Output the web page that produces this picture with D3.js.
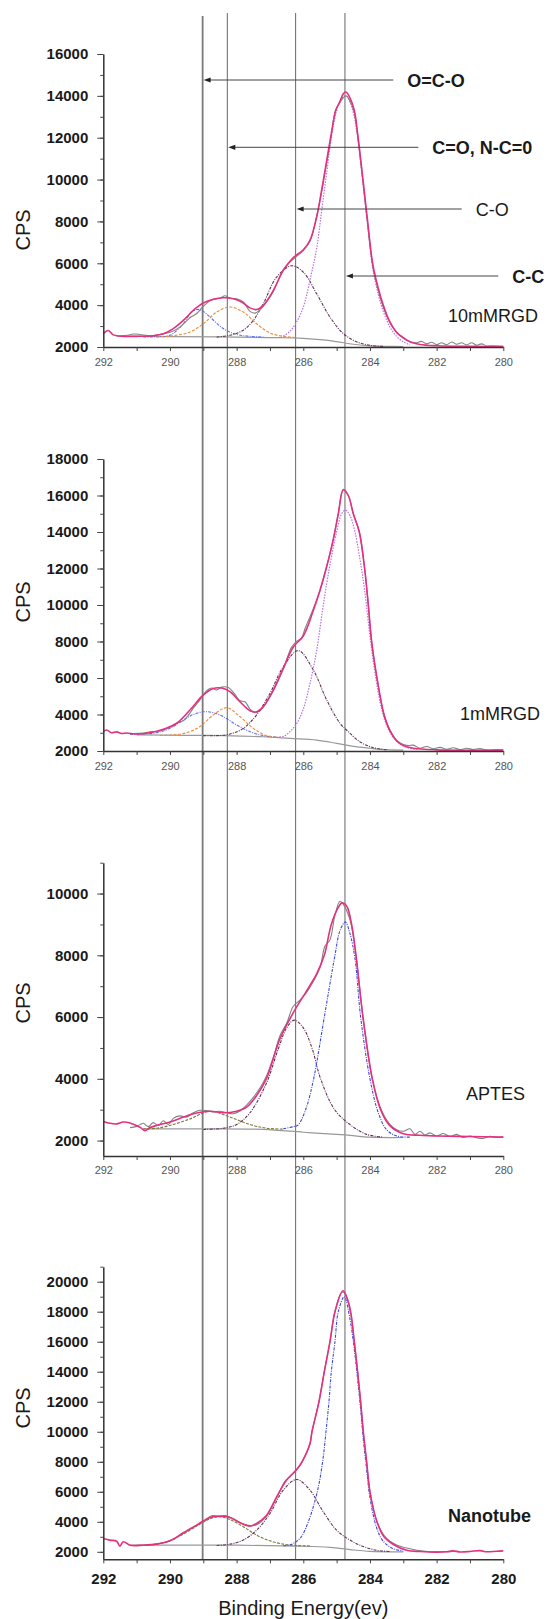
<!DOCTYPE html>
<html>
<head>
<meta charset="utf-8">
<script src="https://cdn.jsdelivr.net/npm/d3@7"></script>
<style>
  body { margin: 0; background: #fff; }
  svg { display: block; }
  text { font-family: "Liberation Sans", Arial, sans-serif; }
</style>
</head>
<body>
<svg id="chart" width="547" height="1619"></svg>
<script>
// ---- data (binding energy eV, counts per second) ----
const xTicks = [292, 290, 288, 286, 284, 282, 280];
const refLines = [289.02, 288.28, 286.23, 284.75];
const bondLabels = ["O=C-O", "C=O, N-C=0", "C-O", "C-C"];
const sampleNames = ["10mMRGD", "1mMRGD", "APTES", "Nanotube"];

const yTicks10m = [2000, 4000, 6000, 8000, 10000, 12000, 14000, 16000];
const yTicks1m = [2000, 4000, 6000, 8000, 10000, 12000, 14000, 16000, 18000];
const yTicksAptes = [2000, 4000, 6000, 8000, 10000];
const yTicksTube = [2000, 4000, 6000, 8000, 10000, 12000, 14000, 16000, 18000, 20000];

// 10mMRGD
const env10m = [[292.0,2640],[291.85,2790],[291.7,2580],[291.45,2510],[291.0,2510],[290.5,2540],[290.2,2630],[289.9,2880],[289.6,3270],[289.3,3750],[289.0,4100],[288.7,4280],[288.4,4350],[288.1,4310],[287.85,4150],[287.6,3870],[287.4,3790],[287.2,3990],[286.9,4700],[286.6,5660],[286.3,6270],[286.0,6650],[285.8,7100],[285.6,8200],[285.45,9500],[285.32,10700],[285.16,12200],[285.02,13350],[284.92,13650],[284.8,14100],[284.72,14180],[284.6,13900],[284.47,13300],[284.37,12200],[284.21,10000],[284.07,8000],[283.92,6000],[283.75,4800],[283.6,4000],[283.4,3200],[283.2,2700],[283.0,2450],[282.8,2250],[282.5,2120],[282.0,2060],[281.0,2030],[280.0,2010]];
const raw10m = [[291.6,2520],[291.3,2560],[291.1,2620],[290.9,2600],[290.6,2540],[290.3,2600],[290.0,2700],[289.7,2950],[289.4,3400],[289.2,3600],[289.0,3950],[288.75,4250],[288.5,4330],[288.35,4450],[288.2,4330],[288.0,4300],[287.8,4150],[287.6,3700],[287.45,3620],[287.3,3780],[287.1,4150],[286.9,4650],[286.6,5700],[286.3,6200],[286.0,6600],[285.8,7050],[285.6,8250],[285.45,9400],[285.32,10600],[285.16,12100],[285.05,13200],[284.9,13700],[284.72,14000],[284.58,13700],[284.47,13200],[284.37,12100],[284.21,9900],[284.07,7900],[283.92,5900],[283.75,4700],[283.6,3900],[283.4,3150],[283.2,2700],[283.0,2420],[282.8,2250],[282.6,2200],[282.45,2270],[282.3,2150],[282.15,2230],[282.0,2120],[281.85,2200],[281.7,2110],[281.55,2240],[281.4,2130],[281.25,2200],[281.1,2100],[280.95,2200],[280.8,2080],[280.65,2150],[280.5,2050],[280.3,2060],[280.0,2040]];
const bg10m = [[291.5,2520],[290.0,2500],[288.5,2480],[287.0,2450],[286.0,2415],[285.4,2340],[285.0,2255],[284.5,2130],[284.0,2050],[283.5,2030],[283.0,2020]];
const oco10m = [[290.8,2480],[290.4,2490],[290.0,2560],[289.6,3110],[289.4,3590],[289.3,3720],[289.15,3800],[289.0,3700],[288.8,3430],[288.4,2880],[288.0,2600],[287.6,2510],[287.2,2470]];
const nco10m = [[290.4,2480],[289.9,2540],[289.4,2720],[289.0,3110],[288.6,3670],[288.2,3910],[287.8,3670],[287.4,3110],[287.0,2670],[286.6,2510],[286.2,2450]];
const co10m = [[288.6,2480],[288.2,2560],[287.8,2800],[287.5,3270],[287.2,4070],[286.8,5340],[286.35,5880],[286.0,5580],[285.6,4550],[285.2,3430],[284.8,2640],[284.4,2250],[284.0,2080],[283.6,2030]];
const cc10m = [[286.6,2520],[286.4,2750],[286.2,3200],[286.0,3900],[285.8,5200],[285.6,6700],[285.45,8500],[285.3,10300],[285.15,12100],[285.0,13300],[284.85,13900],[284.72,14000],[284.6,13700],[284.47,13000],[284.37,12000],[284.21,9800],[284.07,7800],[283.92,5800],[283.75,4500],[283.6,3700],[283.4,2950],[283.2,2500],[283.0,2250],[282.8,2100]];

// 1mMRGD
const env1m = [[292.0,3060],[291.9,3150],[291.75,3000],[291.6,3050],[291.45,2960],[291.3,2990],[291.0,2930],[290.6,3000],[290.2,3190],[289.8,3520],[289.4,4250],[289.0,5070],[288.7,5430],[288.45,5450],[288.2,5250],[287.9,4700],[287.6,4210],[287.4,4150],[287.2,4430],[286.9,5340],[286.6,6530],[286.3,7700],[286.0,8300],[285.7,9700],[285.5,10800],[285.3,12100],[285.1,13600],[284.95,15000],[284.8,16330],[284.65,16000],[284.5,15000],[284.32,14000],[284.16,12000],[284.05,10000],[283.95,8000],[283.79,6000],[283.58,4000],[283.4,3100],[283.2,2550],[283.0,2300],[282.7,2150],[282.0,2060],[281.0,2040],[280.0,2040]];
const raw1m = [[291.1,2950],[290.8,2990],[290.55,3060],[290.3,3100],[290.0,3300],[289.8,3500],[289.6,3650],[289.45,3950],[289.3,4350],[289.1,4800],[288.9,5300],[288.75,5450],[288.6,5350],[288.45,5500],[288.25,5480],[288.05,5100],[287.9,4750],[287.75,4700],[287.6,4300],[287.45,4100],[287.3,4200],[287.1,4700],[286.9,5300],[286.6,6500],[286.35,7700],[286.2,8000],[286.05,8200],[285.95,8700],[285.7,9800],[285.5,10800],[285.3,12100],[285.1,13600],[284.95,15000],[284.8,16300],[284.65,16000],[284.5,15000],[284.32,14000],[284.16,12000],[284.05,10000],[283.95,8000],[283.79,6000],[283.58,4000],[283.4,3150],[283.2,2600],[283.0,2350],[282.85,2300],[282.7,2320],[282.5,2150],[282.3,2250],[282.1,2120],[281.9,2200],[281.7,2100],[281.5,2180],[281.3,2080],[281.1,2150],[280.9,2080],[280.7,2130],[280.5,2060],[280.2,2080],[280.0,2070]];
const bg1m = [[291.0,2880],[289.5,2860],[288.4,2840],[287.2,2780],[286.4,2690],[285.6,2600],[285.0,2420],[284.5,2250],[284.0,2150],[283.5,2070],[283.0,2050]];
const oco1m = [[291.2,2900],[290.9,2930],[290.4,3000],[290.0,3240],[289.6,3700],[289.3,4000],[289.0,4150],[288.7,4100],[288.4,3880],[288.0,3430],[287.6,3060],[287.2,2840],[286.8,2760]];
const nco1m = [[290.3,2860],[289.9,2880],[289.5,3000],[289.1,3340],[288.7,3980],[288.3,4370],[287.9,3880],[287.5,3240],[287.1,2840],[286.7,2750]];
const co1m = [[289.0,2840],[288.6,2840],[288.2,2930],[287.8,3240],[287.4,3980],[287.0,5160],[286.6,6620],[286.15,7500],[285.7,6440],[285.3,4800],[284.9,3520],[284.65,3060],[284.3,2500],[283.9,2180],[283.5,2070]];
const cc1m = [[286.8,2750],[286.6,2800],[286.4,3060],[286.2,3500],[286.0,4300],[285.8,5700],[285.6,7500],[285.4,10000],[285.2,12200],[285.0,14000],[284.85,15000],[284.74,15200],[284.6,14900],[284.45,14000],[284.3,12500],[284.16,10800],[284.0,8300],[283.85,6300],[283.65,4300],[283.45,3200],[283.2,2550],[282.9,2200],[282.6,2080]];

// APTES
const envAptes = [[292.0,2620],[291.8,2560],[291.6,2540],[291.4,2600],[291.2,2570],[290.9,2430],[290.75,2320],[290.6,2420],[290.4,2490],[290.0,2600],[289.6,2760],[289.2,2890],[288.8,2950],[288.4,2900],[288.0,2950],[287.7,3080],[287.4,3460],[287.11,4000],[286.9,4650],[286.7,5300],[286.27,6200],[285.9,6850],[285.6,7400],[285.37,8000],[285.16,9000],[284.95,9550],[284.84,9700],[284.7,9600],[284.55,9000],[284.42,8000],[284.21,6000],[283.93,4000],[283.68,3000],[283.42,2500],[283.0,2220],[282.5,2170],[282.0,2150],[281.0,2130],[280.0,2110]];
const rawAptes = [[291.2,2420],[291.0,2460],[290.8,2560],[290.65,2450],[290.5,2580],[290.35,2480],[290.2,2640],[290.05,2520],[289.9,2720],[289.7,2800],[289.5,2760],[289.3,2900],[289.1,2980],[288.9,2970],[288.7,2930],[288.5,2950],[288.3,2900],[288.1,2870],[287.9,2960],[287.7,3150],[287.5,3400],[287.3,3700],[287.1,4100],[286.9,4700],[286.7,5400],[286.5,5800],[286.3,6350],[286.1,6550],[285.9,6800],[285.7,7150],[285.5,7600],[285.35,8300],[285.2,8500],[285.05,9300],[284.9,9750],[284.8,9650],[284.6,9150],[284.42,8000],[284.21,6000],[283.93,4000],[283.68,3050],[283.42,2550],[283.2,2350],[283.0,2300],[282.8,2380],[282.65,2200],[282.5,2300],[282.35,2180],[282.2,2250],[282.0,2150],[281.8,2230],[281.6,2130],[281.4,2200],[281.2,2100],[281.0,2150],[280.8,2090],[280.6,2070],[280.4,2140],[280.2,2100],[280.0,2120]];
const bgAptes = [[290.8,2380],[289.0,2380],[287.2,2360],[286.0,2270],[285.0,2200],[284.6,2170],[284.0,2110],[283.0,2100]];
const ocAptes = [[290.8,2380],[290.4,2400],[290.0,2490],[289.4,2700],[288.8,2950],[288.2,2760],[287.6,2520],[287.1,2400],[286.6,2370]];
const coAptes = [[289.0,2360],[288.4,2400],[288.0,2520],[287.6,2900],[287.11,3850],[286.74,5000],[286.5,5650],[286.27,5900],[286.0,5650],[285.74,5000],[285.48,4000],[285.06,3000],[284.58,2500],[284.1,2200],[283.6,2110]];
const ccAptes = [[286.6,2380],[286.3,2450],[286.16,2500],[285.93,3000],[285.69,4000],[285.37,6000],[285.05,8000],[284.9,8800],[284.74,9080],[284.6,8700],[284.45,7900],[284.28,6000],[284.0,4000],[283.75,2900],[283.5,2350],[283.2,2150],[282.8,2110]];

// Nanotube
const envTube = [[292.0,2890],[291.8,2780],[291.6,2700],[291.5,2380],[291.4,2670],[291.2,2440],[290.8,2440],[290.4,2510],[290.0,2730],[289.6,3270],[289.2,3780],[288.8,4290],[288.5,4380],[288.2,4290],[287.9,3930],[287.6,3710],[287.4,3890],[287.1,4440],[286.8,5660],[286.5,6780],[286.2,7480],[286.04,8000],[285.8,9200],[285.74,10000],[285.53,12000],[285.37,14000],[285.2,16000],[285.05,18000],[284.81,19400],[284.7,19000],[284.58,18000],[284.47,16000],[284.37,14000],[284.28,12000],[284.2,10000],[284.1,8000],[284.0,6000],[283.79,4000],[283.58,3000],[283.31,2500],[282.9,2100],[282.5,2020],[282.0,1980],[281.7,2000],[281.5,2060],[281.3,1990],[281.0,2020],[280.7,2080],[280.5,2000],[280.2,2040],[280.0,2060]];
const rawTube = [[291.0,2440],[290.6,2470],[290.2,2600],[289.8,2950],[289.4,3500],[289.0,4000],[288.75,4400],[288.55,4350],[288.35,4420],[288.1,4200],[287.85,3900],[287.6,3750],[287.4,3800],[287.1,4400],[286.8,5600],[286.55,6700],[286.4,7000],[286.2,7450],[286.04,7950],[285.8,9200],[285.74,10000],[285.53,12000],[285.37,14000],[285.2,16000],[285.05,18000],[284.85,19300],[284.75,19200],[284.58,17900],[284.47,16000],[284.37,14000],[284.28,12000],[284.2,10000],[284.1,8000],[284.0,6000],[283.79,4000],[283.58,3100],[283.4,2700],[283.2,2450],[283.0,2300],[282.8,2200],[282.6,2100],[282.4,2050],[282.2,2000],[281.8,2010],[281.5,2030]];
const bgTube = [[291.2,2440],[288.0,2440],[286.2,2380],[285.2,2300],[284.6,2150],[284.0,2030],[283.0,2000]];
const ocTube = [[290.8,2420],[290.4,2510],[290.0,2730],[289.6,3180],[289.2,3710],[288.8,4200],[288.5,4330],[288.2,4150],[287.8,3670],[287.4,3110],[287.0,2730],[286.6,2510],[286.2,2420],[285.8,2390]];
const coTube = [[288.6,2420],[288.2,2510],[287.8,2780],[287.4,3440],[287.0,4550],[286.6,6110],[286.2,6820],[285.8,6110],[285.4,4660],[285.0,3440],[284.6,2780],[284.2,2350],[283.8,2100],[283.4,2020]];
const ccTube = [[286.6,2400],[286.4,2460],[286.2,2700],[286.06,3000],[285.85,4000],[285.58,6000],[285.42,8000],[285.32,10000],[285.23,12000],[285.16,14000],[285.05,16000],[284.95,18000],[284.77,19000],[284.6,17500],[284.47,15500],[284.37,13500],[284.28,11500],[284.2,9500],[284.1,7500],[284.0,5600],[283.8,3600],[283.6,2700],[283.3,2200],[283.0,2050]];

// ---- styles and layout ----
const styles = {
    env:    { stroke: "#e4307f", width: 1.6, dash: null },
    raw:    { stroke: "#828282", width: 1.1, dash: null },
    bg:     { stroke: "#999", width: 1.2, dash: null },
    blue:   { stroke: "#5b6cf0", width: 1.1, dash: "3,1.2,1,1.2" },
    orange: { stroke: "#ec8a3c", width: 1.1, dash: "3,1.5" },
    plum:   { stroke: "#5e3054", width: 1.1, dash: "3,1.2,1,1.2" },
    violet: { stroke: "#b86ee8", width: 1.2, dash: "1.5,1.3" },
    navy:   { stroke: "#3a46e0", width: 1.1, dash: "3,1.2,1,1.2" },
    olive:  { stroke: "#7d7a3a", width: 1.1, dash: "3,1.3" }
};

const panels = [
    { name: sampleNames[0], bold: false, domain: [2000, 16000], yTicks: yTicks10m, env: env10m, raw: raw10m, bg: bg10m,
      peaks: [[oco10m, "blue"], [nco10m, "orange"], [co10m, "plum"], [cc10m, "violet"]],
      top: 54, bottom: 347, tickY: 18.7, bigTicks: false, cpsY: 230, labelX: 448, labelY: 321.5 },
    { name: sampleNames[1], bold: false, domain: [2000, 18000], yTicks: yTicks1m, env: env1m, raw: raw1m, bg: bg1m,
      peaks: [[oco1m, "blue"], [nco1m, "orange"], [co1m, "plum"], [cc1m, "violet"]],
      top: 459, bottom: 751, tickY: 19, bigTicks: false, cpsY: 602, labelX: 460, labelY: 720 },
    { name: sampleNames[2], bold: false, domain: [1500, 11000], yTicks: yTicksAptes, env: envAptes, raw: rawAptes, bg: bgAptes,
      peaks: [[ocAptes, "olive"], [coAptes, "plum"], [ccAptes, "navy"]],
      top: 862.7, bottom: 1156, tickY: 18, bigTicks: false, cpsY: 1003, labelX: 466, labelY: 1100 },
    { name: sampleNames[3], bold: true, domain: [1500, 21000], yTicks: yTicksTube, env: envTube, raw: rawTube, bg: bgTube,
      peaks: [[ocTube, "olive"], [coTube, "plum"], [ccTube, "navy"]],
      top: 1266.7, bottom: 1559.3, tickY: 24.7, bigTicks: true, cpsY: 1408, labelX: 448, labelY: 1521.5 }
];

const svg = d3.select("#chart");
const x = d3.scaleLinear().domain([292, 280]).range([103.3, 503.3]);

// reference lines through all panels
svg.append("g").attr("class", "ref-lines")
    .selectAll("line")
    .data(refLines)
    .enter().append("line")
    .attr("x1", d => x(d)).attr("x2", d => x(d))
    .attr("y1", (d, i) => i === 0 ? 16 : 13)
    .attr("y2", 1559)
    .attr("stroke", (d, i) => i === 0 ? "#7a7a7a" : "#666")
    .attr("stroke-width", (d, i) => i === 0 ? 1.8 : 1);

panels.forEach(function (p) {
    const y = d3.scaleLinear().domain(p.domain).range([p.bottom, p.top]);
    const g = svg.append("g").attr("class", "panel");
    const line = d3.line()
        .x(d => x(d[0]))
        .y(d => y(d[1]))
        .curve(d3.curveCatmullRom.alpha(0.5));

    function drawCurve(data, st) {
        g.append("path")
            .attr("d", line(data))
            .attr("fill", "none")
            .attr("stroke", st.stroke)
            .attr("stroke-width", st.width)
            .attr("stroke-dasharray", st.dash)
            .attr("stroke-linejoin", "round");
    }

    drawCurve(p.bg, styles.bg);
    p.peaks.forEach(pk => drawCurve(pk[0], styles[pk[1]]));
    drawCurve(p.raw, styles.raw);
    drawCurve(p.env, styles.env);

    // y axis: minor ticks every 1000, labelled majors
    const minorVals = d3.range(2000, p.domain[1] + 1, 1000);
    const yMinor = g.append("g")
        .attr("transform", `translate(${x(292)},0)`)
        .call(d3.axisLeft(y).tickValues(minorVals).tickSize(3).tickSizeOuter(0).tickFormat(""));
    yMinor.select(".domain").attr("stroke", "#333").attr("stroke-width", 1.5);
    yMinor.selectAll(".tick line").attr("stroke", "#444");

    const yMajor = g.append("g")
        .attr("transform", `translate(${x(292)},0)`)
        .call(d3.axisLeft(y).tickValues(p.yTicks).tickSize(6).tickPadding(9).tickFormat(d3.format("d")));
    yMajor.select(".domain").remove();
    yMajor.selectAll(".tick line").attr("stroke", "#444");
    yMajor.selectAll("text")
        .attr("fill", "#1a1a1a")
        .style("font-size", "15px")
        .style("font-weight", "bold");

    // x axis at the bottom of the panel
    const xAxis = g.append("g")
        .attr("transform", `translate(0,${p.bottom})`)
        .call(d3.axisBottom(x).tickValues(d3.range(280, 293, 1)).tickSize(4).tickSizeOuter(0)
            .tickFormat(d => xTicks.includes(d) ? d : ""));
    xAxis.select(".domain").attr("stroke", "#333").attr("stroke-width", 1.5);
    xAxis.selectAll(".tick line").attr("stroke", "#444");
    xAxis.selectAll("text")
        .attr("y", p.tickY).attr("dy", 0)
        .attr("fill", p.bigTicks ? "#1a1a1a" : "#555")
        .style("font-size", p.bigTicks ? "15px" : "11px")
        .style("font-weight", p.bigTicks ? "bold" : "normal");

    // CPS label
    g.append("text")
        .attr("transform", `translate(29.5,${p.cpsY}) rotate(-90)`)
        .attr("text-anchor", "middle")
        .attr("fill", "#1a1a1a")
        .style("font-size", "20px")
        .text("CPS");

    // sample name
    g.append("text")
        .attr("x", p.labelX).attr("y", p.labelY)
        .attr("fill", "#1a1a1a")
        .style("font-size", "18px")
        .style("font-weight", p.bold ? "bold" : "normal")
        .text(p.name);
});

// bond annotations with arrows in the top panel
const arrowY = [80, 147.3, 209, 276];
const arrowEnd = [393.3, 418.3, 461.7, 498.3];
const ann = svg.append("g").attr("class", "annotations");
bondLabels.forEach(function (lbl, i) {
    const tip = x(refLines[i]) + 1;
    ann.append("line")
        .attr("x1", tip + 5).attr("x2", arrowEnd[i])
        .attr("y1", arrowY[i]).attr("y2", arrowY[i])
        .attr("stroke", "#444").attr("stroke-width", 1);
    ann.append("path")
        .attr("d", `M${tip},${arrowY[i]}L${tip + 7},${arrowY[i] - 2.6}L${tip + 7},${arrowY[i] + 2.6}Z`)
        .attr("fill", "#222");
    ann.append("text")
        .attr("x", arrowEnd[i] + 14).attr("y", arrowY[i] + 6.5)
        .attr("fill", "#1a1a1a")
        .style("font-size", "18px")
        .style("font-weight", i === 2 ? "normal" : "bold")
        .text(lbl);
});

// bottom axis title
svg.append("text")
    .attr("x", x(286)).attr("y", 1615)
    .attr("text-anchor", "middle")
    .attr("fill", "#1a1a1a")
    .style("font-size", "20px")
    .text("Binding Energy(ev)");
</script>
</body>
</html>
